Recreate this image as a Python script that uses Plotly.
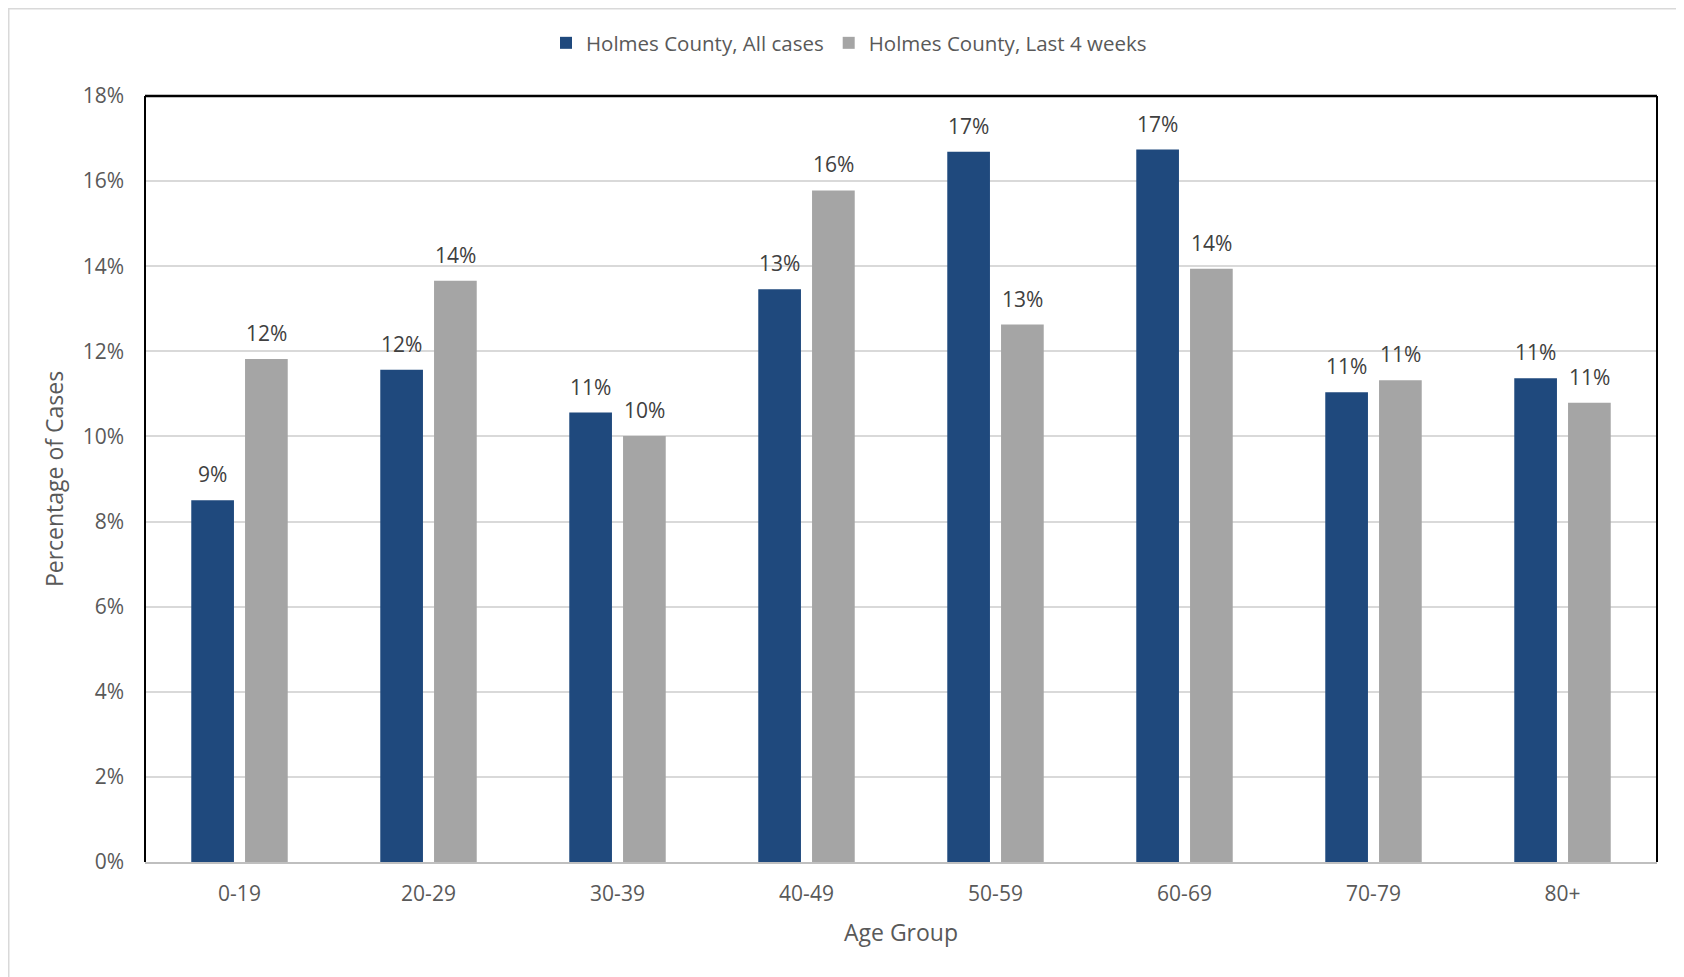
import plotly.graph_objects as go

categories = ["0-19", "20-29", "30-39", "40-49", "50-59", "60-69", "70-79", "80+"]
all_cases = [8.50, 11.57, 10.56, 13.46, 16.69, 16.74, 11.04, 11.37]
last_4_weeks = [11.82, 13.66, 10.01, 15.78, 12.63, 13.94, 11.32, 10.79]
series_names = ["Holmes County, All cases", "Holmes County, Last 4 weeks"]
tick_vals = [0, 2, 4, 6, 8, 10, 12, 14, 16, 18]
tick_text = [f"{v}%" for v in tick_vals]

# page has an 8px body margin; figure coords = page coords - 8
OFF = 8
W, H = 1684, 977
L, R, T, B = 145 - OFF, 27 + OFF, 96 - OFF, 115 + OFF
pw, ph = W - L - R, H - T - B

FONT = "Open Sans"
TXT = "#595959"
LBL = "#404040"
FS = 21

BARGAP = 0.431
GROUPGAP = 0.206
cat_w = pw / len(categories)
slot = cat_w * (1 - BARGAP) / 2
shift = slot / 2

def lab(v):
    return f"{int(v + 0.5)}%"

fig = go.Figure()
fig.add_trace(go.Bar(x=categories, y=all_cases, name=series_names[0],
                     marker=dict(color="#1F497D", line=dict(width=0))))
fig.add_trace(go.Bar(x=categories, y=last_4_weeks, name=series_names[1],
                     marker=dict(color="#A5A5A5", line=dict(width=0))))

annotations = []
for vals, dx in ((all_cases, -shift), (last_4_weeks, shift)):
    for c, v in zip(categories, vals):
        annotations.append(dict(x=c, y=v, xref="x", yref="y", text=lab(v),
                                showarrow=False, xshift=dx, yshift=26,
                                yanchor="middle", xanchor="center",
                                font=dict(family=FONT, size=FS, color=LBL)))

def px(x):
    return (x - L) / pw

def py(y):
    return (H - B - y) / ph

fig.update_layout(
    width=W, height=H,
    margin=dict(l=L, r=R, t=T, b=B, autoexpand=False),
    paper_bgcolor="white", plot_bgcolor="white",
    font=dict(family=FONT, size=FS, color=TXT),
    barmode="group", bargap=BARGAP, bargroupgap=GROUPGAP,
    showlegend=True,
    legend=dict(orientation="h", x=px(849 - OFF), y=py(43 - OFF), xanchor="center",
                yanchor="middle", font=dict(family=FONT, size=20.5, color=TXT),
                itemwidth=30, traceorder="normal"),
    annotations=annotations,
    xaxis=dict(title=dict(text="Age Group", font=dict(size=23, color=TXT), standoff=19),
               showline=True, linecolor="#BFBFBF", linewidth=2, mirror=False,
               ticks="", tickfont=dict(size=FS, color=TXT), showgrid=False,
               ticklabelstandoff=12),
    yaxis=dict(title=dict(text="Percentage of Cases", font=dict(size=23, color=TXT), standoff=12),
               range=[0, 18], tickvals=tick_vals, ticktext=tick_text,
               showgrid=True, gridcolor="#D9D9D9", gridwidth=2,
               showline=False, zeroline=False, ticks="",
               tickfont=dict(size=FS, color=TXT), ticklabelstandoff=20),
    shapes=[
        dict(type="line", xref="paper", yref="paper", x0=0, x1=1, y0=1, y1=1,
             line=dict(color="black", width=2.5)),
        dict(type="line", xref="paper", yref="paper", x0=0, x1=0, y0=0, y1=1,
             line=dict(color="black", width=2)),
        dict(type="line", xref="paper", yref="paper", x0=1, x1=1, y0=0, y1=1,
             line=dict(color="black", width=2)),
        dict(type="rect", xref="paper", yref="paper", x0=px(0.5), x1=px(W + 20),
             y0=py(H + 20), y1=py(0.5), line=dict(color="#D9D9D9", width=2), layer="below"),
    ],
)

fig.write_html("out.html")
